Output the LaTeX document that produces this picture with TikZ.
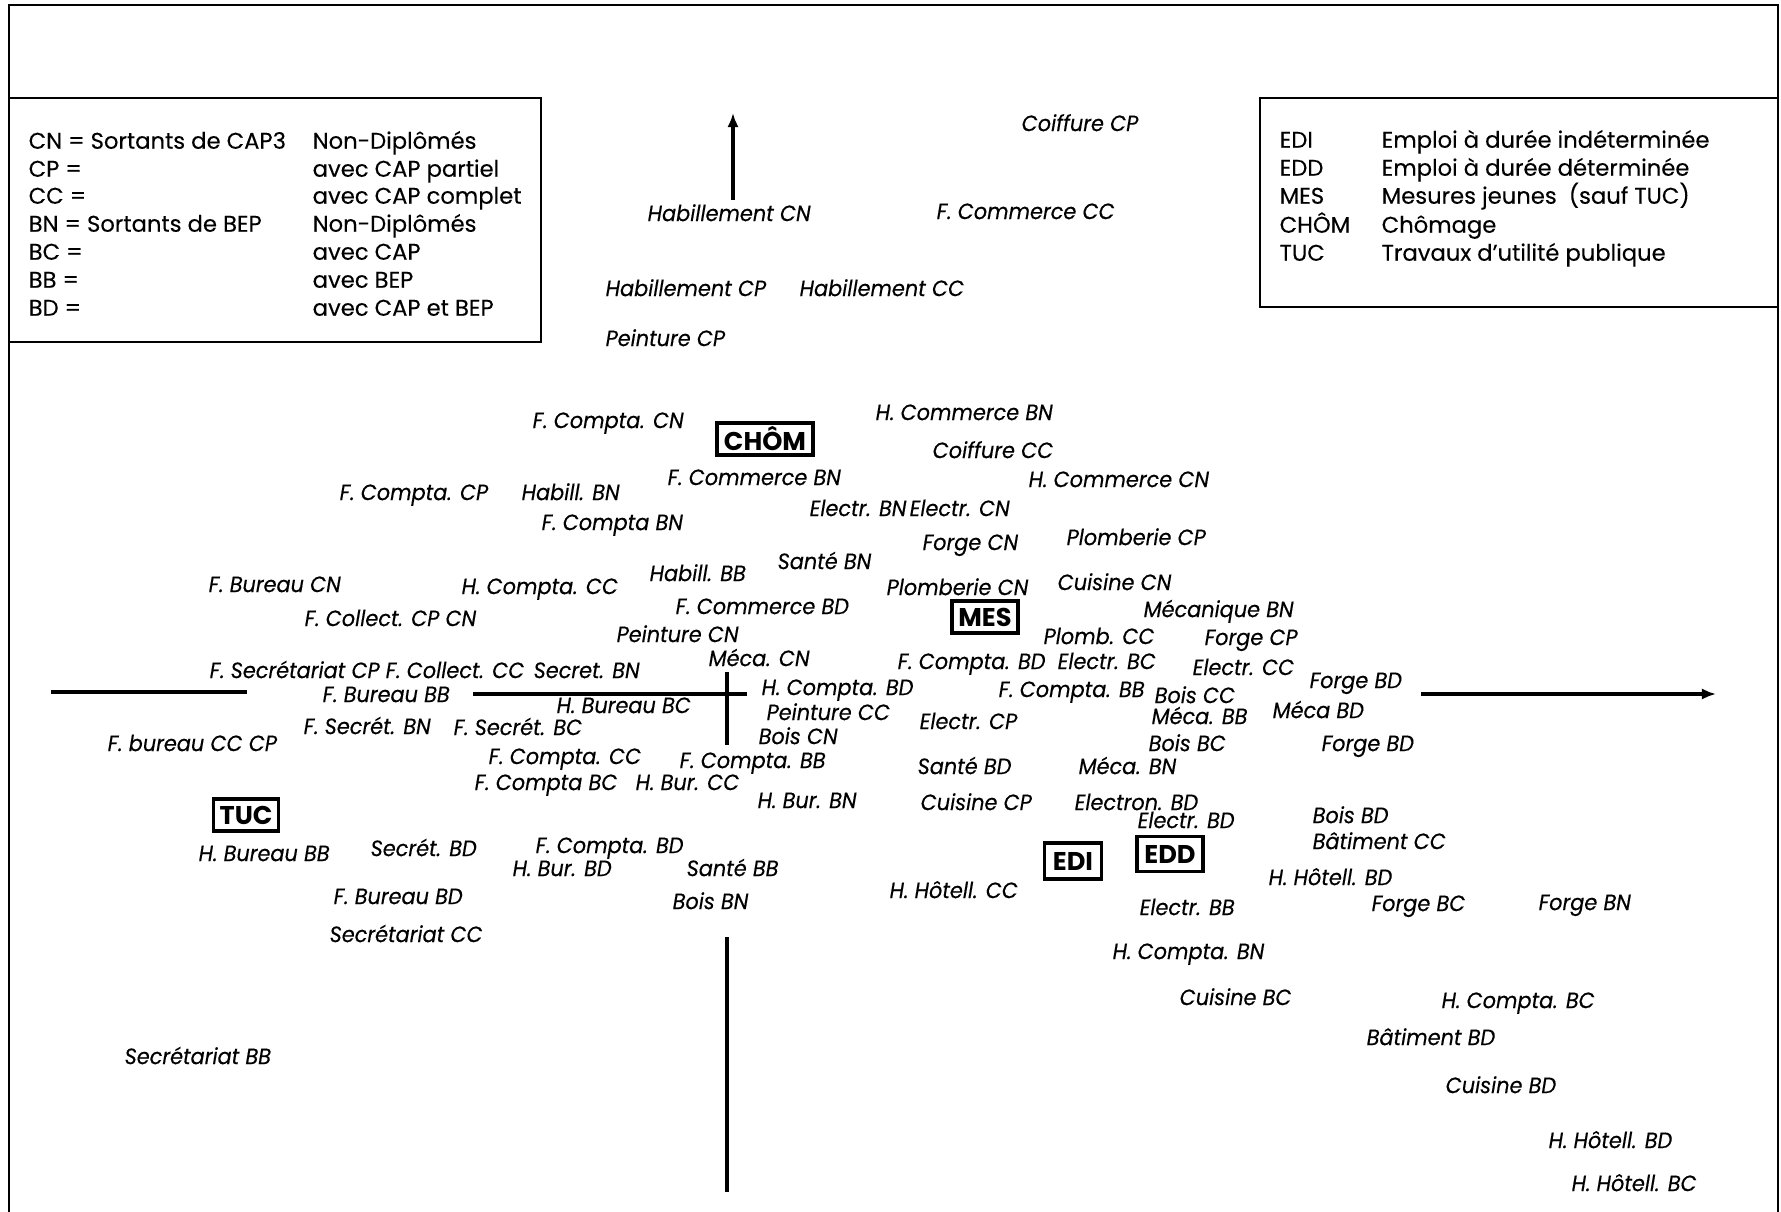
\documentclass[tikz,border=0pt]{standalone}
\usepackage{fontspec}
\setmainfont{Poppins}
\newfontfamily\labfont{Poppins}[FakeStretch=0.94,FakeBold=0.3]
\newfontfamily\keyfont{Poppins}[FakeBold=0.2]
\usetikzlibrary{arrows.meta}
\begin{document}
\begin{tikzpicture}[x=0.01cm,y=-0.01cm,
  lbl/.style={anchor=base west, inner sep=0pt, yshift=-2.3pt,
    font=\labfont\fontsize{6.3}{7}\selectfont\itshape},
  key/.style={anchor=base west, inner sep=0pt, yshift=-2.2pt,
    font=\keyfont\fontsize{6.45}{7}\selectfont},
  statebox/.style={draw, line width=0.9pt, inner sep=0pt,
    font=\fontsize{7.3}{8}\selectfont\bfseries},
  frameline/.style={line width=0.8pt},
  axisline/.style={line width=1.1pt},
  axisarrow/.style={line width=1.1pt, -{Latex[length=4pt,width=3.2pt]}},
]
\fill[white] (0,0) rectangle (1781,1212);
\useasboundingbox (0,0) rectangle (1781,1212);

% outer frame (open at the bottom)
\draw[frameline] (9,1212) -- (9,5) -- (1778,5) -- (1778,1212);

% legend boxes
\draw[frameline] (9,98) rectangle (541,342);
\draw[frameline] (1260,98) rectangle (1778,307);

% left legend: diploma codes
\node[key] (k1a) at (28,141) {CN = Sortants de CAP3};
\node[key] (k1b) at (312,141) {Non-Diplômés};
\node[key] (k2a) at (28,169) {CP =};
\node[key] (k2b) at (312,169) {avec CAP partiel};
\node[key] (k3a) at (28,196) {CC =};
\node[key] (k3b) at (312,196) {avec CAP complet};
\node[key] (k4a) at (28,224) {BN = Sortants de BEP};
\node[key] (k4b) at (312,224) {Non-Diplômés};
\node[key] (k5a) at (28,252) {BC =};
\node[key] (k5b) at (312,252) {avec CAP};
\node[key] (k6a) at (28,280) {BB =};
\node[key] (k6b) at (312,280) {avec BEP};
\node[key] (k7a) at (28,308) {BD =};
\node[key] (k7b) at (312,308) {avec CAP et BEP};

% right legend: situations
\node[key] (s1a) at (1279,140) {EDI};
\node[key] (s1b) at (1381,140) {Emploi à durée indéterminée};
\node[key] (s2a) at (1279,168) {EDD};
\node[key] (s2b) at (1381,168) {Emploi à durée déterminée};
\node[key] (s3a) at (1279,196) {MES};
\node[key] (s3b) at (1381,196) {Mesures jeunes\ \ (sauf TUC)};
\node[key] (s4a) at (1279,225) {CHÔM};
\node[key] (s4b) at (1381,225) {Chômage};
\node[key] (s5a) at (1279,253) {TUC};
\node[key] (s5b) at (1381,253) {Travaux d’utilité publique};

% axes
\coordinate (vtop) at (733,113);
\coordinate (vtopfoot) at (733,200);
\coordinate (vmidA) at (727,672);
\coordinate (vmidB) at (727,745);
\coordinate (vlowA) at (727,937);
\coordinate (vlowB) at (727,1192);
\coordinate (hleftA) at (51,692);
\coordinate (hleftB) at (247,692);
\coordinate (hmidA) at (473,694);
\coordinate (hmidB) at (747,694);
\coordinate (hrightA) at (1421,694);
\coordinate (hright) at (1716,694);
\draw[axisarrow] (vtopfoot) -- (vtop);
\draw[axisline] (vmidA) -- (vmidB);
\draw[axisline] (vlowA) -- (vlowB);
\draw[axisline] (hleftA) -- (hleftB);
\draw[axisline] (hmidA) -- (hmidB);
\draw[axisarrow] (hrightA) -- (hright);

% situations
\node[statebox, minimum width=0.96cm, minimum height=0.32cm] (chom) at (765,439) {CHÔM};
\node[statebox, minimum width=0.66cm, minimum height=0.32cm] (mes) at (985,617) {MES};
\node[statebox, minimum width=0.65cm, minimum height=0.32cm] (tuc) at (246,815) {TUC};
\node[statebox, minimum width=0.57cm, minimum height=0.36cm] (edi) at (1073,861) {EDI};
\node[statebox, minimum width=0.66cm, minimum height=0.35cm] (edd) at (1170,854) {EDD};

% training / diploma groups
\node[lbl] (n01) at (1021,123) {Coiffure CP};
\node[lbl] (n02) at (647,213) {Habillement CN};
\node[lbl] (n03) at (936,211) {F. Commerce CC};
\node[lbl] (n04) at (605,288) {Habillement CP};
\node[lbl] (n05) at (799,288) {Habillement CC};
\node[lbl] (n06) at (605,338) {Peinture CP};
\node[lbl] (n07) at (532,420) {F. Compta. CN};
\node[lbl] (n08) at (875,412) {H. Commerce BN};
\node[lbl] (n09) at (932,450) {Coiffure CC};
\node[lbl] (n10) at (667,477) {F. Commerce BN};
\node[lbl] (n11) at (1028,479) {H. Commerce CN};
\node[lbl] (n12) at (339,492) {F. Compta. CP};
\node[lbl] (n13) at (521,492) {Habill. BN};
\node[lbl] (n14) at (809,508) {Electr. BN};
\node[lbl] (n15) at (909,508) {Electr. CN};
\node[lbl] (n16) at (541,522) {F. Compta BN};
\node[lbl] (n17) at (922,542) {Forge CN};
\node[lbl] (n18) at (1066,537) {Plomberie CP};
\node[lbl] (n19) at (777,561) {Santé BN};
\node[lbl] (n20) at (208,584) {F. Bureau CN};
\node[lbl] (n21) at (461,586) {H. Compta. CC};
\node[lbl] (n22) at (649,573) {Habill. BB};
\node[lbl] (n23) at (886,587) {Plomberie CN};
\node[lbl] (n24) at (1057,582) {Cuisine CN};
\node[lbl] (n25) at (1143,609) {Mécanique BN};
\node[lbl] (n26) at (675,606) {F. Commerce BD};
\node[lbl] (n27) at (304,618) {F. Collect. CP CN};
\node[lbl] (n28) at (616,634) {Peinture CN};
\node[lbl] (n29) at (1043,636) {Plomb. CC};
\node[lbl] (n30) at (1204,637) {Forge CP};
\node[lbl] (n31) at (708,658) {Méca. CN};
\node[lbl] (n32) at (897,661) {F. Compta. BD};
\node[lbl] (n33) at (1057,661) {Electr. BC};
\node[lbl] (n34) at (1192,667) {Electr. CC};
\node[lbl] (n35) at (209,670) {F. Secrétariat CP};
\node[lbl] (n36) at (385,670) {F. Collect. CC};
\node[lbl] (n37) at (533,670) {Secret. BN};
\node[lbl] (n38) at (322,694) {F. Bureau BB};
\node[lbl] (n39) at (556,705) {H. Bureau BC};
\node[lbl] (n40) at (761,687) {H. Compta. BD};
\node[lbl] (n41) at (998,689) {F. Compta. BB};
\node[lbl] (n42) at (1154,695) {Bois CC};
\node[lbl] (n43) at (1309,680) {Forge BD};
\node[lbl] (n44) at (766,712) {Peinture CC};
\node[lbl] (n45) at (1151,716) {Méca. BB};
\node[lbl] (n46) at (1272,710) {Méca BD};
\node[lbl] (n47) at (919,721) {Electr. CP};
\node[lbl] (n48) at (303,726) {F. Secrét. BN};
\node[lbl] (n49) at (453,727) {F. Secrét. BC};
\node[lbl] (n50) at (758,736) {Bois CN};
\node[lbl] (n51) at (1148,743) {Bois BC};
\node[lbl] (n52) at (1321,743) {Forge BD};
\node[lbl] (n53) at (107,743) {F. bureau CC CP};
\node[lbl] (n54) at (488,756) {F. Compta. CC};
\node[lbl] (n55) at (679,760) {F. Compta. BB};
\node[lbl] (n56) at (917,766) {Santé BD};
\node[lbl] (n57) at (1078,766) {Méca. BN};
\node[lbl] (n58) at (474,782) {F. Compta BC};
\node[lbl] (n59) at (635,782) {H. Bur. CC};
\node[lbl] (n60) at (757,800) {H. Bur. BN};
\node[lbl] (n61) at (920,802) {Cuisine CP};
\node[lbl] (n62) at (1074,802) {Electron. BD};
\node[lbl] (n63) at (1137,820) {Electr. BD};
\node[lbl] (n64) at (1312,815) {Bois BD};
\node[lbl] (n65) at (1312,841) {Bâtiment CC};
\node[lbl] (n66) at (198,853) {H. Bureau BB};
\node[lbl] (n67) at (370,848) {Secrét. BD};
\node[lbl] (n68) at (535,845) {F. Compta. BD};
\node[lbl] (n69) at (512,868) {H. Bur. BD};
\node[lbl] (n70) at (686,868) {Santé BB};
\node[lbl] (n71) at (889,890) {H. Hôtell. CC};
\node[lbl] (n72) at (1268,877) {H. Hôtell. BD};
\node[lbl] (n73) at (333,896) {F. Bureau BD};
\node[lbl] (n74) at (672,901) {Bois BN};
\node[lbl] (n75) at (1139,907) {Electr. BB};
\node[lbl] (n76) at (1371,903) {Forge BC};
\node[lbl] (n77) at (1538,902) {Forge BN};
\node[lbl] (n78) at (329,934) {Secrétariat CC};
\node[lbl] (n79) at (1112,951) {H. Compta. BN};
\node[lbl] (n80) at (1179,997) {Cuisine BC};
\node[lbl] (n81) at (1441,1000) {H. Compta. BC};
\node[lbl] (n82) at (1366,1037) {Bâtiment BD};
\node[lbl] (n83) at (124,1056) {Secrétariat BB};
\node[lbl] (n84) at (1445,1085) {Cuisine BD};
\node[lbl] (n85) at (1548,1140) {H. Hôtell. BD};
\node[lbl] (n86) at (1571,1183) {H. Hôtell. BC};
\end{tikzpicture}
\end{document}
